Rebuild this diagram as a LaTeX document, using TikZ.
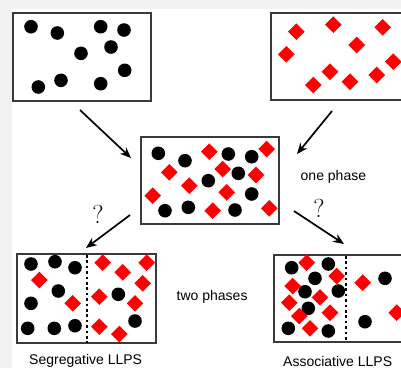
\documentclass[tikz,border=0pt]{standalone}
\usepackage{fontspec}
\setmainfont{Liberation Sans}
\newfontfamily\qfont{Latin Modern Roman}
\usetikzlibrary{arrows.meta}
\definecolor{bandgray}{HTML}{F2F2F2}
\definecolor{framegray}{HTML}{3A3A3A}
\tikzset{
  panel/.style={draw=framegray, line width=1.7pt, fill=white, inner sep=0pt},
  flow/.style={line width=1.7pt, -{Stealth[length=11pt,width=9pt]}},
  divider/.style={line width=2.6pt, dash pattern=on 2.6pt off 2.8pt},
  label/.style={font=\fontsize{14}{16}\selectfont, inner sep=0pt},
  query/.style={font=\qfont\fontsize{26}{28}\selectfont, inner sep=0pt}
}
\newcommand{\bdot}[2]{\fill[black] (#1,#2) circle (6.8);}
\newcommand{\rdiam}[2]{\fill[red] (#1,#2-8.3) -- (#1+8.3,#2) -- (#1,#2+8.3) -- (#1-8.3,#2) -- cycle;}
\begin{document}
\begin{tikzpicture}[x=1pt, y=-1pt]
\useasboundingbox (0,0) rectangle (401,368);
\fill[white] (0,0) rectangle (401,368);
% light page margins along the top and left
\fill[bandgray] (0,0) rectangle (401,9);
\fill[bandgray] (0,0) rectangle (12,368);

% panels
\draw[panel] (13,13) rectangle (151,101);
\node[inner sep=0pt] (pa) at (82,57) {};
\draw[panel] (271,13) rectangle (412,100);
\node[inner sep=0pt] (pb) at (336,56) {};
\draw[panel] (141,137) rectangle (279,224);
\node[inner sep=0pt] (pc) at (210,180) {};
\draw[panel] (17,254) rectangle (156,343);
\node[inner sep=0pt] (pd) at (86,298) {};
\draw[panel] (274,255) rectangle (412,342);
\node[inner sep=0pt] (pe) at (343,298) {};

% black particles, top left
\foreach \x/\y in {31/26.7, 57.3/33, 100.7/26.7, 124/30, 81/53.3, 111/47,
                   124.7/70.3, 61/80.3, 38.3/87, 100.7/83.7} {\bdot{\x}{\y}}

% red particles, top right
\foreach \x/\y in {296.3/31.7, 333.3/24.7, 382.7/27.3, 286.3/54.3, 356.7/45,
                   330/71.7, 313.3/85, 350/81.7, 376.7/75, 393.3/61.7} {\rdiam{\x}{\y}}

% mixed, one phase
\foreach \x/\y in {158.3/153.3, 185/160.7, 228.3/154, 251.7/156.7, 238.3/173.3,
                   208.3/180.7, 251.7/194, 165/210.7, 188.3/207.3, 235/210} {\bdot{\x}{\y}}
\foreach \x/\y in {209.3/151.7, 266.7/149, 169.3/172.3, 222.7/169, 256/175,
                   189.3/185.7, 152.7/195.7, 226.7/192.3, 212.7/210.7, 269.3/208.3} {\rdiam{\x}{\y}}

% segregative
\foreach \x/\y in {31/264, 55/261.7, 75/267.7, 58.3/291, 31/303.3, 27.7/328.3,
                   54.3/328.3, 75/325.7, 118.3/294.3, 135/321} {\bdot{\x}{\y}}
\foreach \x/\y in {39.3/280, 72.7/303.3, 102.7/262.7, 122.7/272.3, 146.7/262.7,
                   142.7/283.3, 99.3/296.7, 135/303.3, 99.3/326.7, 119.3/334} {\rdiam{\x}{\y}}
\coordinate (da) at (87,255);
\coordinate (db) at (87,343);
\draw[divider] (da) -- (db);

% associative
\foreach \x/\y in {291.7/267.7, 328.3/264, 315/278.3, 305/291.7, 338.3/291,
                   308.3/308.3, 288.3/328.3, 328.3/331, 385/278.3, 365/321.7} {\bdot{\x}{\y}}
\foreach \x/\y in {306.7/262.7, 336.7/276, 292.7/286, 320/297.3, 289.3/302.7,
                   299.3/316, 330/312.7, 310/328.3, 362.7/282.7, 396.7/312.7} {\rdiam{\x}{\y}}
\coordinate (ea) at (346,256);
\coordinate (eb) at (346,342);
\draw[divider] (ea) -- (eb);

% arrows
\coordinate (a1) at (80,110);  \coordinate (a2) at (131,158);
\coordinate (b1) at (332,111); \coordinate (b2) at (297,154);
\coordinate (c1) at (130,215); \coordinate (c2) at (86,248);
\coordinate (d1) at (294,211); \coordinate (d2) at (344,244);
\draw[flow] (a1) -- (a2);
\draw[flow] (b1) -- (b2);
\draw[flow] (c1) -- (c2);
\draw[flow] (d1) -- (d2);

% labels
\node[query] (q1) at (98,214) {?};
\node[query] (q2) at (319,208) {?};
\node[label, anchor=west] (t1) at (300.5,177) {one phase};
\node[label, anchor=west] (t2) at (176.5,297) {two phases};
\node[label, anchor=west] (t3) at (29,361) {Segregative LLPS};
\node[label, anchor=west] (t4) at (283,361) {Associative LLPS};
\end{tikzpicture}
\end{document}
